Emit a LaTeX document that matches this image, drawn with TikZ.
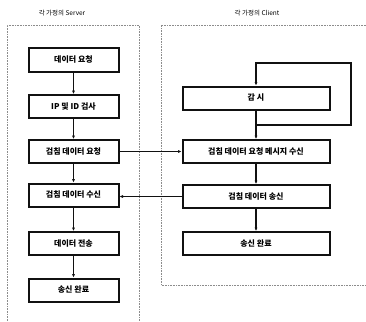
\documentclass[tikz,border=0pt]{standalone}
\usepackage{fontspec}
\setmainfont{Noto Sans CJK KR}
\usetikzlibrary{arrows.meta,positioning}
\definecolor{ink}{HTML}{111111}
\definecolor{frame}{HTML}{8C8C8C}

\begin{document}
\begin{tikzpicture}[x=1pt,y=-1pt,font=\fontsize{8}{9.5}\selectfont\bfseries,>={Latex[length=3.5pt,width=3.2pt]},
  box/.style={draw=ink,line width=2pt,minimum height=23pt,inner sep=1pt},
  sbox/.style={box,minimum width=90pt},
  cbox/.style={box,minimum width=147pt},
  lane/.style={frame,densely dotted,line width=0.6pt},
  link/.style={->,ink,line width=1.4pt}]
\useasboundingbox (0,0) rectangle (366,321);
% lanes
\node[font=\fontsize{6.5}{7.5}\selectfont] (stitle) at (62,13) {각 가정의 Server};
\node[font=\fontsize{6.5}{7.5}\selectfont] (ctitle) at (257,13) {각 가정의 Client};
\draw[lane] (7,321)--(7,25)--(139,25)--(139,321);
\draw[lane] (366,25)--(161,25)--(161,285)--(366,285);
% server side
\node[sbox] (s1) at (73.5,60) {데이터 요청};
\node[sbox] (s2) at (73.5,106.5) {IP 및 ID 검사};
\node[sbox] (s3) at (73.5,151.5) {검침 데이터 요청};
\node[sbox] (s4) at (73.5,195) {검침 데이터 수신};
\node[sbox] (s5) at (73.5,243.5) {데이터 전송};
\node[sbox] (s6) at (73.5,290) {송신 완료};
\foreach \a/\b in {s1/s2,s2/s3,s3/s4,s4/s5,s5/s6}
  \draw[link] (\a)--(\b);
% client side
\node[cbox] (c1) at (256,98) {감 시};
\node[cbox] (c2) at (256,151.5) {검침 데이터 요청 메시지 수신};
\node[cbox] (c3) at (256,196.5) {검침 데이터 송신};
\node[cbox] (c4) at (256,243.5) {송신 완료};
\foreach \a/\b in {c1/c2,c2/c3,c3/c4}
  \draw[link] (\a)--(\b);
\coordinate (loop) at (256,125);
\draw[link] (loop)--(351,125)--(351,63)--(256,63)--(c1);
% exchange
\draw[link] (s3.east)--(s3.east-|c2.west);
\draw[link] (c3.west)--(c3.west-|s4.east);
\end{tikzpicture}
\end{document}
